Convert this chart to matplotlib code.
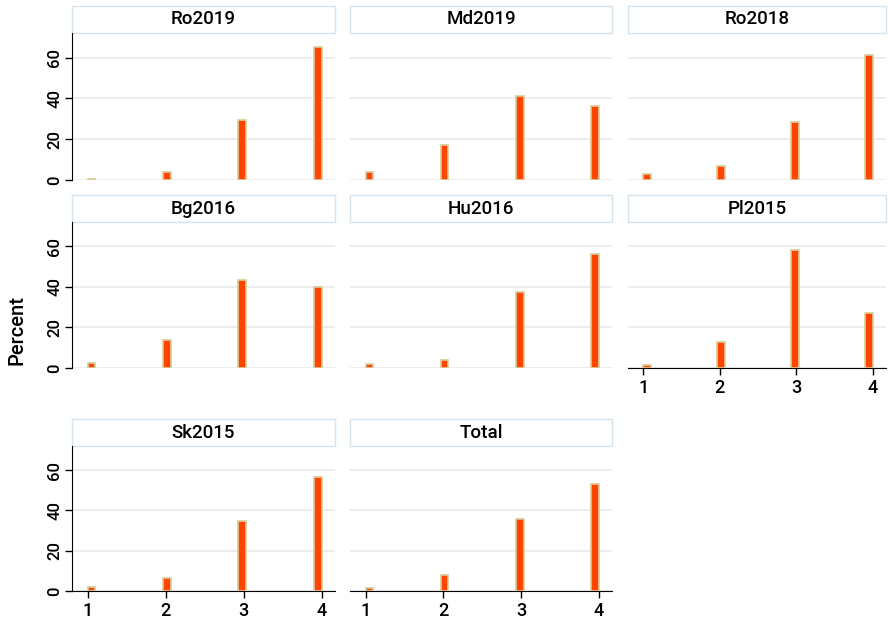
import numpy as np
import matplotlib.pyplot as plt
from matplotlib.patches import Rectangle

plt.rcParams['font.family'] = ['Roboto', 'DejaVu Sans']
plt.rcParams['font.weight'] = 'medium'

# data
panels = ["Ro2019", "Md2019", "Ro2018", "Bg2016", "Hu2016", "Pl2015", "Sk2015", "Total"]
categories = [1, 2, 3, 4]
ro2019 = [0.3, 4.0, 29.5, 65.2]
md2019 = [4.0, 17.0, 41.0, 36.3]
ro2018 = [2.8, 7.0, 28.5, 61.0]
bg2016 = [2.3, 13.8, 43.5, 39.7]
hu2016 = [2.0, 4.0, 37.3, 56.2]
pl2015 = [1.3, 12.8, 58.4, 27.2]
sk2015 = [1.8, 6.3, 34.8, 56.8]
total = [1.5, 8.0, 36.0, 53.2]
values = [ro2019, md2019, ro2018, bg2016, hu2016, pl2015, sk2015, total]
yticks = [0, 20, 40, 60]

W, H = 888, 624
fig = plt.figure(figsize=(W / 100, H / 100), dpi=100)

cols = [(72, 335), (350, 612), (628, 886)]
rows = [(33, 180), (222, 368), (446, 591)]
title_h = 27

# which panels show x axis
xaxis_on = {"Pl2015", "Sk2015", "Total"}

bar_c = "#FF4500"
edge_c = "#D8CB9A"
grid_c = "#EAEAEA"
box_c = "#D5E3EC"

centers = np.linspace(1.05, 3.95, len(categories))

for i, (name, vals) in enumerate(zip(panels, values)):
    r, c = divmod(i, 3)
    x0, x1 = cols[c]
    y0, y1 = rows[r]
    ax = fig.add_axes([x0 / W, 1 - y1 / H, (x1 - x0) / W, (y1 - y0) / H])
    ax.bar(centers, vals, width=0.1, color=bar_c, edgecolor=edge_c, linewidth=1.2, zorder=3)
    ax.set_xlim(0.8, 4.17)
    ax.set_ylim(0, 72)
    ax.set_yticks(yticks)
    ax.set_xticks(categories)
    for y in yticks:
        ax.axhline(y, color=grid_c, lw=1.2, zorder=1)
    for s in ["top", "right"]:
        ax.spines[s].set_visible(False)
    if c == 0:
        ax.spines["left"].set_color("black")
        ax.tick_params(axis="y", labelsize=12, length=5, width=1, pad=2)
        for lab in ax.get_yticklabels():
            lab.set_rotation(90)
            lab.set_va("center")
    else:
        ax.spines["left"].set_visible(False)
        ax.tick_params(axis="y", left=False, labelleft=False)
    if name in xaxis_on:
        ax.spines["bottom"].set_color("black")
        ax.tick_params(axis="x", labelsize=13, length=5, width=1, pad=3)
    else:
        ax.spines["bottom"].set_visible(False)
        ax.tick_params(axis="x", bottom=False, labelbottom=False)
    # title strip
    th = title_h / (y1 - y0)
    ax.add_patch(Rectangle((0, 1), 1, th, transform=ax.transAxes, clip_on=False,
                           facecolor="white", edgecolor=box_c, lw=1.0))
    ax.text(0.5, 1 + th / 2, name, transform=ax.transAxes, ha="center", va="center",
            fontsize=13.5)

fig.text(17 / W, 1 - 330 / H, "Percent", rotation=90, ha="center", va="center", fontsize=14.5)

fig.savefig("out.png", dpi=100)
